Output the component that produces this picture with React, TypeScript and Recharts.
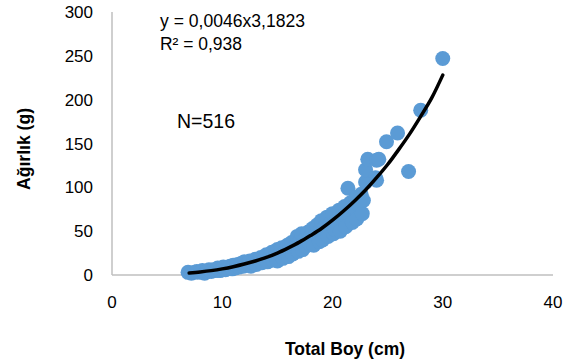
import React from 'react';
import { ScatterChart, Scatter, XAxis, YAxis } from 'recharts';

// measured points (Total Boy cm, Ağırlık g)
const boyCm = [
  6.9, 7.2, 7.5, 7.7, 8, 8.2, 8.4, 8.6, 8.8, 9, 9.2, 9.4, 9.6, 9.8, 10, 10.1, 10.3, 10.5, 10.7, 10.9,
  11, 11.2, 11.4, 11.5, 11.7, 11.9, 12, 12.1, 12.3, 12.5, 12.6, 12.8, 13, 13.1, 13.3, 13.5, 13.6, 13.8,
  14, 14.1, 14.3, 14.5, 14.6, 14.8, 15, 15, 15.2, 15.4, 15.5, 15.7, 15.9, 16, 16.1, 16.3, 16.4, 16.6,
  16.8, 16.9, 17, 17.2, 17.3, 17.5, 17.6, 17.8, 17.9, 18, 18.2, 18.3, 18.5, 18.6, 18.8, 18.9, 19, 19.1,
  19.3, 19.5, 19.6, 19.8, 20, 20.1, 20.2, 20.4, 20.6, 20.7, 20.9, 21.1, 21.2, 21.4, 21.5, 21.6, 21.8,
  22, 22.1, 22.2, 22.4, 22.6, 22.7, 22.8, 23, 23, 23.2, 23.9, 24, 24, 24.2, 24.9, 25.9, 26.9, 28, 30,
];
const agirlikG = [
  3, 2, 3, 4, 3, 5, 2, 4, 6, 4, 6, 5, 8, 5, 7, 9, 6, 8, 10, 7,
  11, 8, 12, 9, 13, 10, 15, 11, 13, 16, 10, 14, 18, 12, 16, 20, 14, 18,
  23, 15, 20, 26, 17, 22, 29, 16, 24, 31, 19, 27, 34, 21, 29, 37, 24, 32,
  44, 27, 38, 47, 29, 41, 33, 49, 36, 44, 53, 34, 47, 57, 38, 51, 62, 40,
  55, 66, 44, 59, 70, 47, 52, 63, 74, 50, 67, 78, 55, 99, 70, 82, 60,
  75, 88, 64, 80, 92, 70, 85, 106, 120, 132, 111, 108, 131, 132, 152, 162, 118, 188, 247,
];

// trend line
const trendBoy = [7, 8, 9, 10, 11, 12, 13, 14, 15, 16, 17, 18, 19, 20, 21, 22, 23, 24, 25, 26, 27, 28, 29, 30];
const trendAgirlik = [2.3, 3.5, 5, 7, 9.5, 12.5, 16, 20, 25, 31, 37.5, 45, 53, 62.5, 73, 84.5, 97, 111, 126, 143, 161, 181, 202, 228];

const xTicks = [0, 10, 20, 30, 40];
const yTicks = [0, 50, 100, 150, 200, 250, 300];

const points = boyCm.map((x, i) => ({ x, y: agirlikG[i] }));
const trend = trendBoy.map((x, i) => ({ x, y: trendAgirlik[i] }));

const font = '"Liberation Sans", Arial, sans-serif';

const Dot = (props: any) => <circle cx={props.cx} cy={props.cy} r={7.5} fill="#5B9BD5" />;

const App: React.FC = () => {
  return (
    <div style={{ position: 'absolute', left: 0, top: 0, width: 571, height: 363, background: '#fff' }}>
      <ScatterChart width={571} height={363} margin={{ top: 12, right: 18, left: 0, bottom: 48 }}>
        <XAxis
          type="number"
          dataKey="x"
          domain={[0, 40]}
          ticks={xTicks}
          height={40}
          tickLine={false}
          tickSize={0}
          tickMargin={21}
          axisLine={{ stroke: '#bfbfbf', strokeWidth: 1.5 }}
          tick={{ fill: '#000', fontSize: 17, fontFamily: font }}
        />
        <YAxis
          type="number"
          dataKey="y"
          domain={[0, 300]}
          ticks={yTicks}
          width={112}
          tickLine={false}
          tickSize={0}
          tickMargin={19}
          axisLine={{ stroke: '#bfbfbf', strokeWidth: 1.5 }}
          tick={{ fill: '#000', fontSize: 17, fontFamily: font }}
        />
        <Scatter data={points} shape={Dot} isAnimationActive={false} />
        <Scatter
          data={trend}
          line={{ stroke: '#000', strokeWidth: 3.5, strokeLinecap: 'round' }}
          lineJointType="monotoneX"
          shape={() => <g />}
          isAnimationActive={false}
        />
      </ScatterChart>
      <svg width={571} height={363} style={{ position: 'absolute', left: 0, top: 0, pointerEvents: 'none' }}>
        <g fontFamily={font} fill="#000">
          <text x={160} y={27} fontSize={18} textLength={145} lengthAdjust="spacingAndGlyphs">y = 0,0046x3,1823</text>
          <text x={160} y={50} fontSize={18} textLength={82} lengthAdjust="spacingAndGlyphs">R² = 0,938</text>
          <text x={177} y={128} fontSize={21} textLength={58} lengthAdjust="spacingAndGlyphs">N=516</text>
          <text x={285} y={355} fontSize={19} fontWeight="bold" textLength={120} lengthAdjust="spacingAndGlyphs">Total Boy (cm)</text>
          <text
            x={30}
            y={149}
            fontSize={19}
            fontWeight="bold"
            textAnchor="middle"
            textLength={82}
            lengthAdjust="spacingAndGlyphs"
            transform="rotate(-90 30 149)"
          >
            Ağırlık (g)
          </text>
        </g>
      </svg>
    </div>
  );
};

export default App;
